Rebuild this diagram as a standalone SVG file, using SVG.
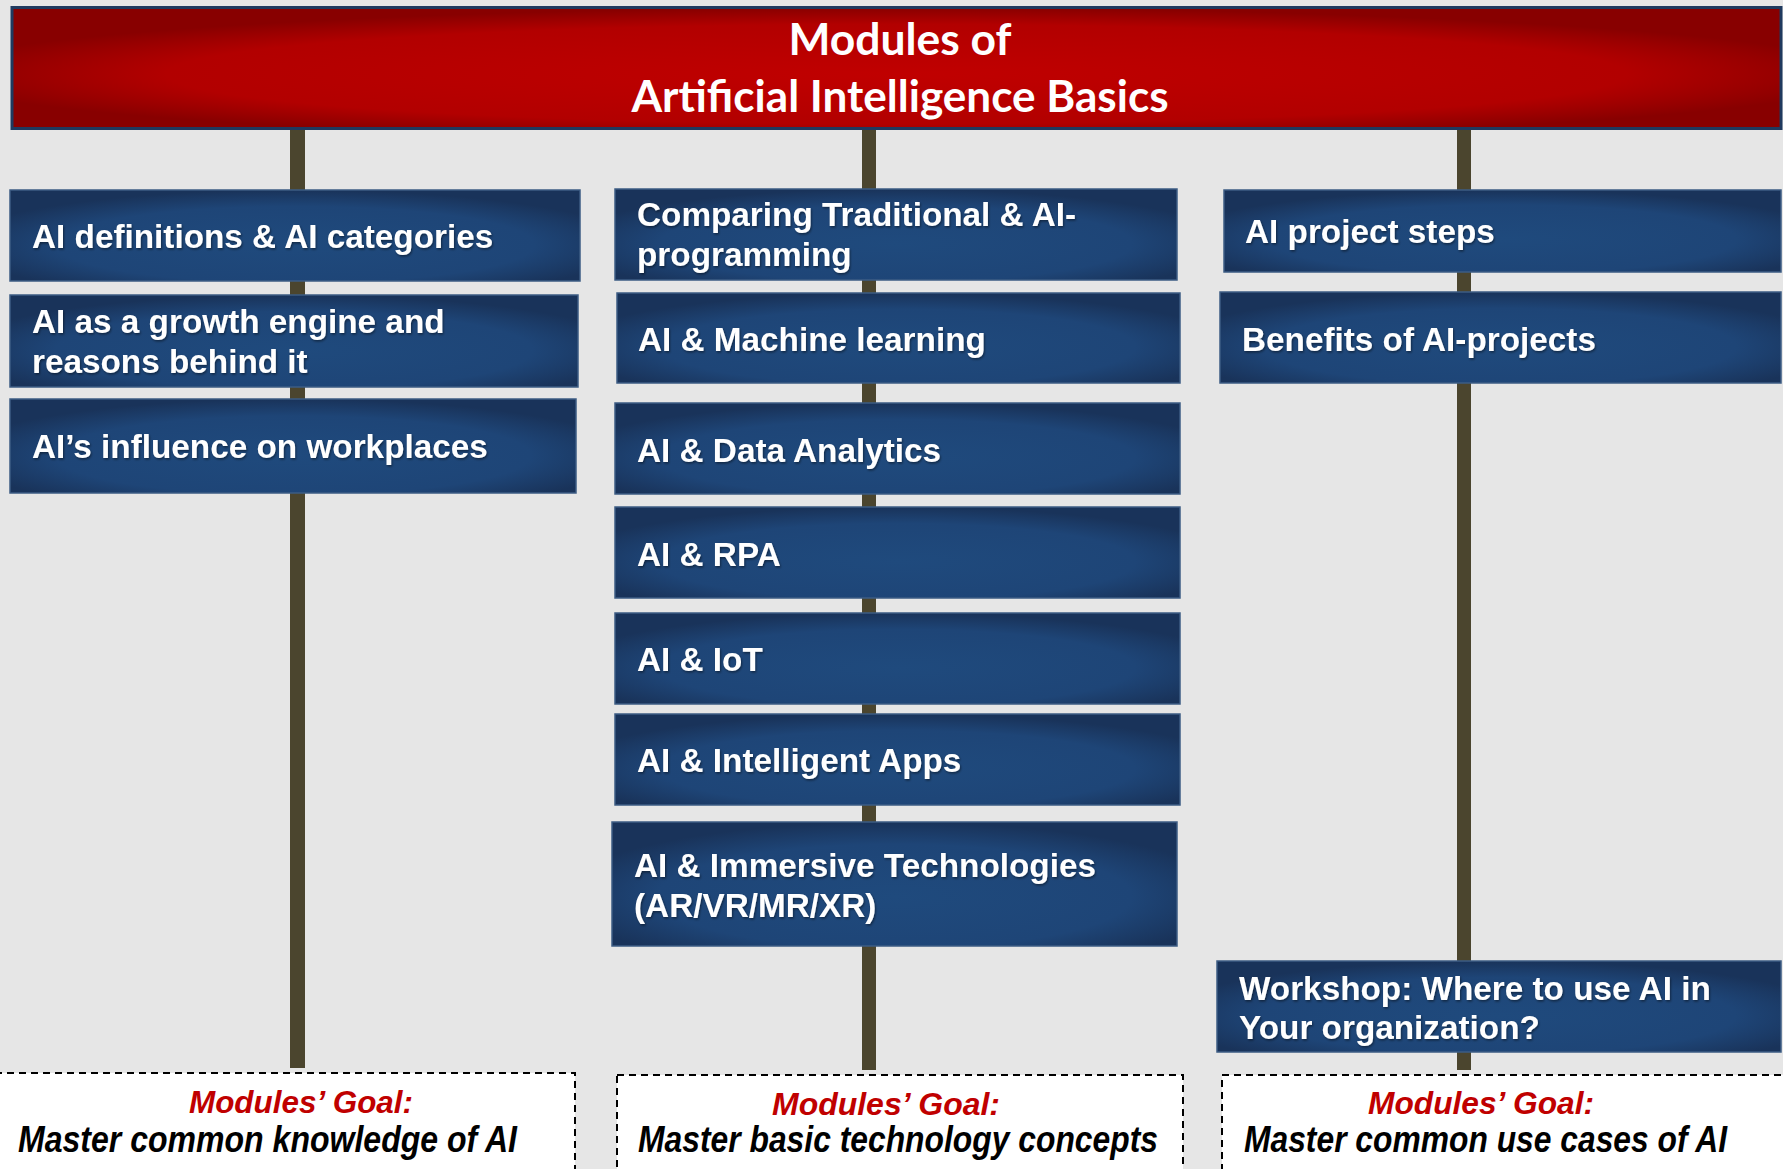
<svg xmlns="http://www.w3.org/2000/svg" width="1783" height="1169" viewBox="0 0 1783 1169">
<defs>
<radialGradient id="redg" cx="0.5" cy="0.55" r="0.55">
<stop offset="0" stop-color="#C00000"/>
<stop offset="0.75" stop-color="#B20000"/>
<stop offset="1" stop-color="#880000"/>
</radialGradient>
<radialGradient id="blueg" cx="0.5" cy="0.6" r="0.6">
<stop offset="0" stop-color="#1F4A7D"/>
<stop offset="0.7" stop-color="#1E4577"/>
<stop offset="1" stop-color="#19335A"/>
</radialGradient>
<filter id="ts" x="-5%" y="-25%" width="112%" height="150%">
<feDropShadow dx="1" dy="1.5" stdDeviation="1" flood-color="#000" flood-opacity="0.45"/>
</filter>
</defs>
<style>
.bg{fill:#E6E6E6}
.box{fill:url(#blueg);stroke:#3D5C84;stroke-width:1.5}
.bt{font-family:"Liberation Sans",Arial,sans-serif;font-weight:bold;font-size:33.3px;fill:#FFFFFF;filter:url(#ts)}
.title{font-family:Lato,"Open Sans",sans-serif;font-weight:bold;font-size:43px;fill:#FFFFFF;text-anchor:middle}
.line{fill:#4B452E}
.goal{fill:#FFFFFF;stroke:#000000;stroke-width:2;stroke-dasharray:7 5}
.gr{font-family:"Liberation Sans",Arial,sans-serif;font-weight:bold;font-style:italic;font-size:32px;fill:#C00000}
.gb{font-family:"Liberation Sans",Arial,sans-serif;font-weight:bold;font-style:italic;font-size:36px;fill:#000000}
</style>
<rect class="bg" x="0" y="0" width="1783" height="1169"/>

<g id="connectors">
<rect class="line" x="290" y="125" width="15" height="943"/>
<rect class="line" x="862" y="125" width="14" height="945"/>
<rect class="line" x="1457" y="125" width="14" height="945"/>
</g>

<g id="title">
<rect x="12" y="7.5" width="1769" height="121" fill="url(#redg)" stroke="#1F3A5F" stroke-width="3"/>
<text class="title" x="900" y="55" textLength="223" lengthAdjust="spacingAndGlyphs">Modules of</text>
<text class="title" x="900" y="112" textLength="537" lengthAdjust="spacingAndGlyphs">Artificial Intelligence Basics</text>
</g>

<g id="n-definitions">
<rect class="box" x="10" y="190" width="570" height="91"/>
<text class="bt" x="32" y="248">AI definitions &amp; AI categories</text>
</g>
<g id="n-growth">
<rect class="box" x="10" y="295" width="568" height="92"/>
<text class="bt" x="32" y="333">AI as a growth engine and</text>
<text class="bt" x="32" y="373">reasons behind it</text>
</g>
<g id="n-workplaces">
<rect class="box" x="10" y="399" width="566" height="94"/>
<text class="bt" x="32" y="458">AI’s influence on workplaces</text>
</g>

<g id="n-comparing">
<rect class="box" x="615" y="189" width="562" height="91"/>
<text class="bt" x="637" y="226">Comparing Traditional &amp; AI-</text>
<text class="bt" x="637" y="266">programming</text>
</g>
<g id="n-ml">
<rect class="box" x="617" y="293" width="563" height="90"/>
<text class="bt" x="638" y="351">AI &amp; Machine learning</text>
</g>
<g id="n-data">
<rect class="box" x="615" y="403" width="565" height="91"/>
<text class="bt" x="637" y="462">AI &amp; Data Analytics</text>
</g>
<g id="n-rpa">
<rect class="box" x="615" y="507" width="565" height="91"/>
<text class="bt" x="637" y="566">AI &amp; RPA</text>
</g>
<g id="n-iot">
<rect class="box" x="615" y="613" width="565" height="91"/>
<text class="bt" x="637" y="671">AI &amp; IoT</text>
</g>
<g id="n-apps">
<rect class="box" x="615" y="714" width="565" height="91"/>
<text class="bt" x="637" y="772">AI &amp; Intelligent Apps</text>
</g>
<g id="n-immersive">
<rect class="box" x="612" y="822" width="565" height="124"/>
<text class="bt" x="634" y="877">AI &amp; Immersive Technologies</text>
<text class="bt" x="634" y="917">(AR/VR/MR/XR)</text>
</g>

<g id="n-steps">
<rect class="box" x="1224" y="190" width="557" height="82"/>
<text class="bt" x="1245" y="243">AI project steps</text>
</g>
<g id="n-benefits">
<rect class="box" x="1220" y="292" width="561" height="91"/>
<text class="bt" x="1242" y="351">Benefits of AI-projects</text>
</g>
<g id="n-workshop">
<rect class="box" x="1217" y="961" width="564" height="91"/>
<text class="bt" x="1239" y="1000">Workshop: Where to use AI in</text>
<text class="bt" x="1239" y="1039">Your organization?</text>
</g>

<g id="goal-left">
<rect class="goal" x="-5" y="1073" width="580" height="110"/>
<text class="gr" x="301" y="1113" text-anchor="middle" textLength="224" lengthAdjust="spacingAndGlyphs">Modules’ Goal:</text>
<text class="gb" x="18" y="1152" textLength="499" lengthAdjust="spacingAndGlyphs">Master common knowledge of AI</text>
</g>
<g id="goal-middle">
<rect class="goal" x="617" y="1075" width="566" height="110"/>
<text class="gr" x="886" y="1115" text-anchor="middle" textLength="228" lengthAdjust="spacingAndGlyphs">Modules’ Goal:</text>
<text class="gb" x="638" y="1152" textLength="520" lengthAdjust="spacingAndGlyphs">Master basic technology concepts</text>
</g>
<g id="goal-right">
<rect class="goal" x="1222" y="1075" width="580" height="110"/>
<text class="gr" x="1481" y="1114" text-anchor="middle" textLength="226" lengthAdjust="spacingAndGlyphs">Modules’ Goal:</text>
<text class="gb" x="1244" y="1152" textLength="483" lengthAdjust="spacingAndGlyphs">Master common use cases of AI</text>
</g>
</svg>
